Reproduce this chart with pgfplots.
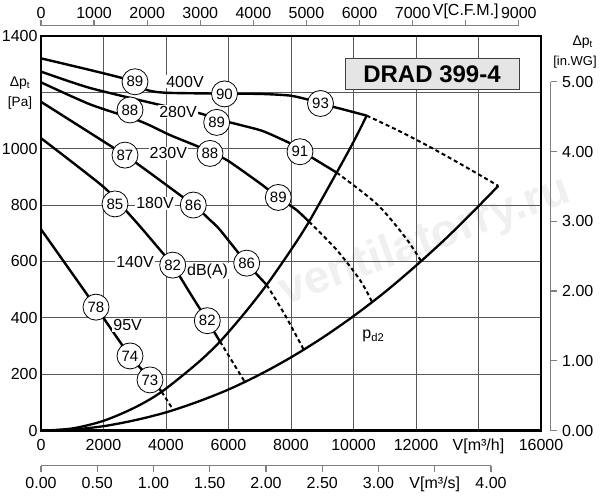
\documentclass[border=0pt]{standalone}
\usepackage{pgfplots}
\pgfplotsset{compat=1.18}
\usepackage{fontspec}
\setmainfont{Liberation Sans}
\begin{document}
\fontsize{16}{19}\selectfont
\begin{tikzpicture}[x=1pt,y=1pt]
\useasboundingbox (0,0) rectangle (600,500);
% watermark
\node[rotate=20, text=black!6, font=\fontsize{46}{50}\selectfont\bfseries] at (425,258) {ventilatorry.ru};
% ---------------- main axis ----------------
\begin{axis}[
  at={(41pt,69.3pt)}, anchor=south west,
  scale only axis, width=500pt, height=394.9pt,
  xmin=0, xmax=16000, ymin=0, ymax=1400,
  xtick={0,2000,4000,6000,8000,10000,12000,14000,16000},
  xticklabels={0,2000,4000,6000,8000,10000,12000,{V[m³/h]},16000},
  ytick={0,200,400,600,800,1000,1200,1400},
  yticklabels={0,200,400,600,800,1000,{},1400},
  scaled ticks=false,
  /pgf/number format/assume math mode=true,
  /pgf/number format/1000 sep={},
  grid=major, grid style={black!65, line width=0.9pt},
  axis line style={line width=2.5pt},
  major tick length=0pt,
  tick label style={font=\fontsize{16}{19}\selectfont},
  xticklabel style={yshift=-3pt},
  yticklabel style={xshift=2pt},
]
% system curve (steep)
\addplot[line width=2.3pt, smooth, tension=0.5] coordinates {
(0,0) (1000,8) (2000,35) (3000,82) (3862,138) (5000,239) (5728,316) (6500,415) (7222,517) (8000,641) (8576,741) (9462,915) (10000,1024) (10422,1117)};
% system curve p_d2
\addplot[line width=2.3pt, smooth, tension=0.5] coordinates {
(0,0) (1000,4) (2000,16) (3000,37) (4000,65) (5000,102) (6000,146) (7000,199) (8000,260) (9000,329) (10000,406) (11000,491) (12000,585) (13000,686) (14000,796) (14634,868)};
% 400V
\addplot[line width=2.4pt, smooth, tension=0.4] coordinates {
(0,1320) (2634,1249) (3382,1208) (4022,1198) (5824,1195) (7008,1194) (7968,1188) (8608,1172) (8928,1160) (9568,1142) (10422,1117)};
\addplot[line width=2pt, dash pattern=on 4pt off 3pt, smooth] coordinates {
(10422,1117) (11488,1061) (12544,1000) (13622,933) (14634,868)};
% 280V
\addplot[line width=2.4pt, smooth, tension=0.4] coordinates {
(0,1273) (1568,1215) (3808,1155) (5088,1125) (5622,1105) (6368,1084) (7104,1062) (7968,1019) (8288,995) (8704,966) (9462,915)};
\addplot[line width=2pt, dash pattern=on 4pt off 3pt, smooth] coordinates {
(9462,915) (10742,804) (11648,687) (12160,602)};
% 230V
\addplot[line width=2.4pt, smooth, tension=0.4] coordinates {
(0,1235) (1568,1157) (3200,1096) (4128,1048) (4992,1009) (5408,986) (5942,960) (7008,877) (7594,827) (8182,782) (8576,741)};
\addplot[line width=2pt, dash pattern=on 4pt off 3pt, smooth] coordinates {
(8576,741) (9462,641) (10208,534) (10592,457)};
% 180V
\addplot[line width=2.4pt, smooth, tension=0.4] coordinates {
(0,1166) (2262,1007) (3062,948) (4874,800) (5408,747) (5728,712) (6582,594) (7222,517)};
\addplot[line width=2pt, dash pattern=on 4pt off 3pt, smooth] coordinates {
(7222,517) (7808,410) (8394,290)};
% 140V
\addplot[line width=2.4pt, smooth, tension=0.4] coordinates {
(0,1037) (1994,865) (2794,771) (3264,712) (3808,641) (4214,587) (4768,488) (5322,390) (5728,316)};
\addplot[line width=2pt, dash pattern=on 4pt off 3pt] coordinates {
(5728,316) (6528,172)};
% 95V
\addplot[line width=2.4pt, smooth, tension=0.4] coordinates {
(0,714) (1760,438) (2848,265) (3542,180) (3862,138)};
\addplot[line width=2pt, dash pattern=on 4pt off 3pt] coordinates {
(3862,138) (4234,73)};
% dB(A) circles
\addplot[only marks, mark=*, mark size=13pt,
  mark options={fill=white, draw=black, line width=0.8pt},
  nodes near coords, point meta=explicit symbolic,
  every node near coord/.append style={anchor=center, inner sep=0pt, font=\fontsize{15}{18}\selectfont}]
  table[meta=lab] {
x y lab
3008 1237 89
5872 1194 90
8944 1160 93
2848 1137 88
5622 1093 89
8288 989 91
2688 977 87
5408 983 88
7594 827 89
2368 804 85
4874 800 86
6582 594 86
4214 587 82
5322 390 82
1760 438 78
2848 265 74
3488 180 73
};
% voltage labels
\node[fill=white, inner sep=1pt] at (axis cs:4608,1237) {400V};
\node[fill=white, inner sep=1pt] at (axis cs:4384,1131) {280V};
\node[fill=white, inner sep=1pt] at (axis cs:4074,983) {230V};
\node[fill=white, inner sep=1pt] at (axis cs:3648,806) {180V};
\node[fill=white, inner sep=1pt] at (axis cs:3008,599) {140V};
\node[fill=white, inner sep=1pt] at (axis cs:5330,566) {dB(A)};
\node[fill=white, inner sep=1pt] at (axis cs:2774,375) {95V};
\node[inner sep=1pt] at (axis cs:10634,336) {p\textsubscript{d2}};
\end{axis}
% ---------------- top axis (CFM) ----------------
\begin{axis}[
  at={(41pt,474.3pt)}, anchor=north west,
  scale only axis, width=477.85pt, height=10pt,
  xmin=0, xmax=9000, ymin=0, ymax=1,
  axis x line*=top, axis y line=none,
  xtick={0,1000,2000,3000,4000,5000,6000,7000,8000,9000},
  xticklabels={0,1000,2000,3000,4000,5000,6000,7000,{V[C.F.M.]},9000},
  tick align=outside, major tick length=6pt,
  axis line style={-, black!50, line width=1.2pt},
  tick style={black!50, line width=1.2pt},
  xticklabel style={inner sep=1pt, font=\fontsize{16}{19}\selectfont, text=black},
]
\addplot[draw=none] coordinates {(0,0)};
\end{axis}
% ---------------- bottom axis (m3/s) ----------------
\begin{axis}[
  at={(41pt,34.3pt)}, anchor=south west,
  scale only axis, width=450pt, height=10pt,
  xmin=0, xmax=4, ymin=0, ymax=1,
  axis x line*=bottom, axis y line=none,
  xtick={0,0.5,1,1.5,2,2.5,3,3.5,4},
  xticklabels={0.00,0.50,1.00,1.50,2.00,2.50,3.00,{V[m³/s]},4.00},
  tick align=outside, major tick length=6pt,
  axis line style={-, black!50, line width=1.2pt},
  tick style={black!50, line width=1.2pt},
  xticklabel style={font=\fontsize{16}{19}\selectfont, text=black},
]
\addplot[draw=none] coordinates {(0,0)};
\end{axis}
% ---------------- right axis (in.WG) ----------------
\begin{axis}[
  at={(550.7pt,69.3pt)}, anchor=south east,
  scale only axis, width=10pt, height=349pt,
  ymin=0, ymax=5, xmin=0, xmax=1,
  axis y line*=right, axis x line=none,
  ytick={0,1,2,3,4,5},
  yticklabels={0.00,1.00,2.00,3.00,4.00,5.00},
  tick align=outside, major tick length=6pt,
  axis line style={-, black!50, line width=1.2pt},
  tick style={black!50, line width=1.2pt},
  yticklabel style={font=\fontsize{16}{19}\selectfont, text=black},
]
\addplot[draw=none] coordinates {(0,0)};
\end{axis}
% axis titles
\node[font=\fontsize{14}{17}\selectfont] at (20,417) {Δp\textsubscript{t}};
\node[font=\fontsize{13.5}{16}\selectfont] at (20,397) {[Pa]};
\node[font=\fontsize{14}{17}\selectfont] at (582.7,458.3) {Δp\textsubscript{t}};
\node[font=\fontsize{13}{16}\selectfont] at (575,438.3) {[in.WG]};
% title box
\node[draw=black!75, fill=black!10, line width=1pt, minimum width=174pt, minimum height=31pt,
  font=\fontsize{24}{28}\selectfont\bfseries] at (432,426) {DRAD 399-4};
\end{tikzpicture}
\end{document}
